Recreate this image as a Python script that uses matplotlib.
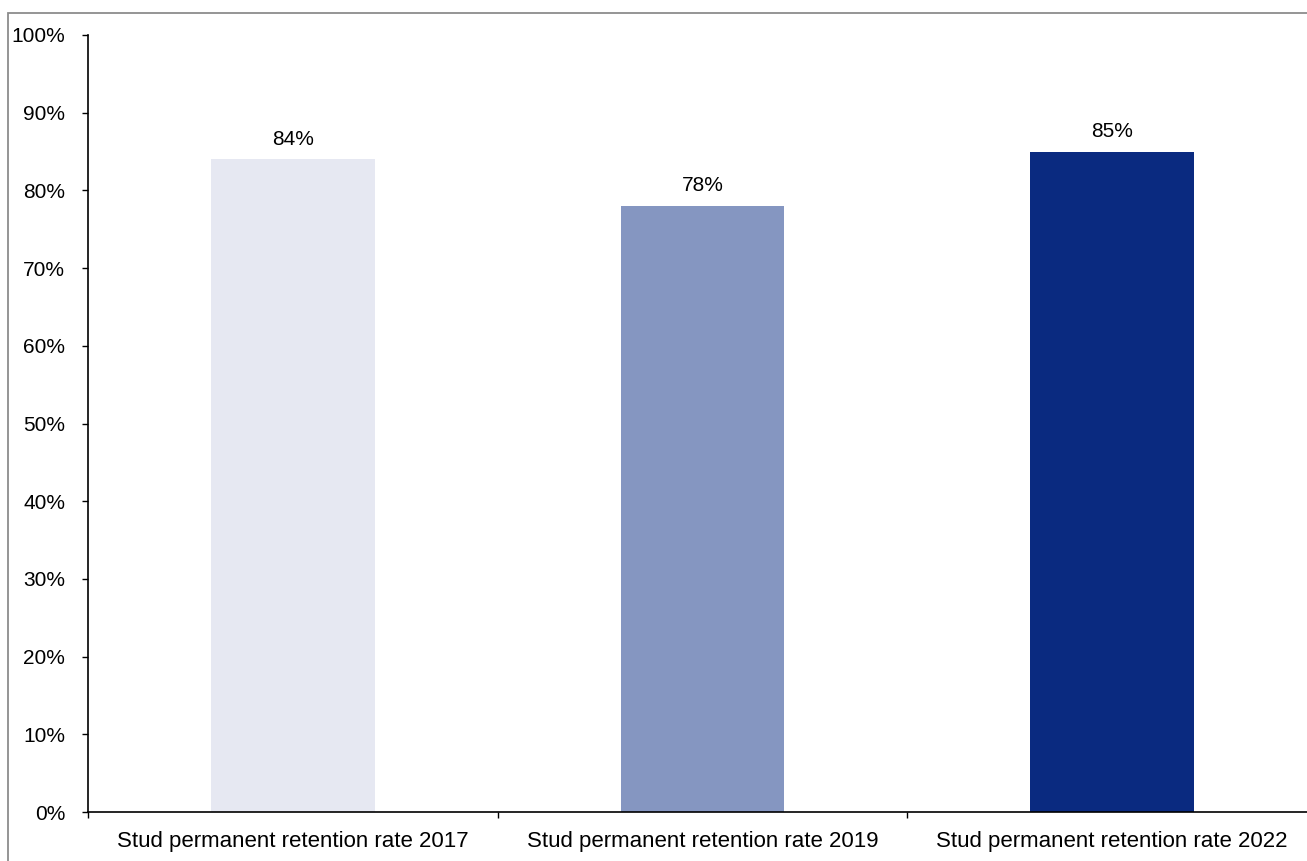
import matplotlib
matplotlib.use("Agg")
import matplotlib.pyplot as plt
from matplotlib.patches import Rectangle
from matplotlib.ticker import PercentFormatter, MultipleLocator

categories = ["Stud permanent retention rate 2017",
              "Stud permanent retention rate 2019",
              "Stud permanent retention rate 2022"]
values = [84, 78, 85]
colors = ["#E6E8F2", "#8596C1", "#0A2A80"]

plt.rcParams['font.family'] = ['Liberation Sans', 'DejaVu Sans']

W, H = 1307, 861
fig = plt.figure(figsize=(W / 100, H / 100), dpi=100)
fig.patch.set_facecolor("white")

# outer grey frame (cut off at right and bottom)
fig.patches.append(Rectangle((8 / W, -0.5), 2.0, 1 - 13 / H + 0.5,
                             transform=fig.transFigure, fill=False,
                             edgecolor="#8C8C8C", linewidth=1.3, clip_on=False))

ax = fig.add_axes([88 / W, 1 - 812 / H, (1317 - 88) / W, (812 - 35) / H])
x = list(range(len(categories)))
bars = ax.bar(x, values, width=0.4, color=colors, zorder=2)
ax.set_xlim(-0.5, len(categories) - 0.5)
ax.set_ylim(0, 100)

for xi, v in zip(x, values):
    ax.annotate(f"{v}%", (xi, v), xytext=(0, 14.5), textcoords="offset points",
                ha="center", va="center", fontsize=15, color="black")

ax.yaxis.set_major_locator(MultipleLocator(10))
ax.yaxis.set_major_formatter(PercentFormatter(decimals=0))
ax.set_xticks([-0.5 + i for i in range(len(categories) + 1)])
ax.set_xticklabels([])
ax.set_xticks(x, minor=True)
ax.set_xticklabels(categories, minor=True)
ax.tick_params(axis="x", which="minor", length=0, pad=14, labelsize=16)
ax.tick_params(axis="x", which="major", length=4.3, width=1, direction="out")
ax.tick_params(axis="y", length=4.3, width=1, direction="out", pad=12, labelsize=15)

for s in ["top", "right"]:
    ax.spines[s].set_visible(False)
ax.spines["left"].set_linewidth(1.2)
ax.spines["bottom"].set_linewidth(1.2)

fig.savefig("out.png", dpi=100)
